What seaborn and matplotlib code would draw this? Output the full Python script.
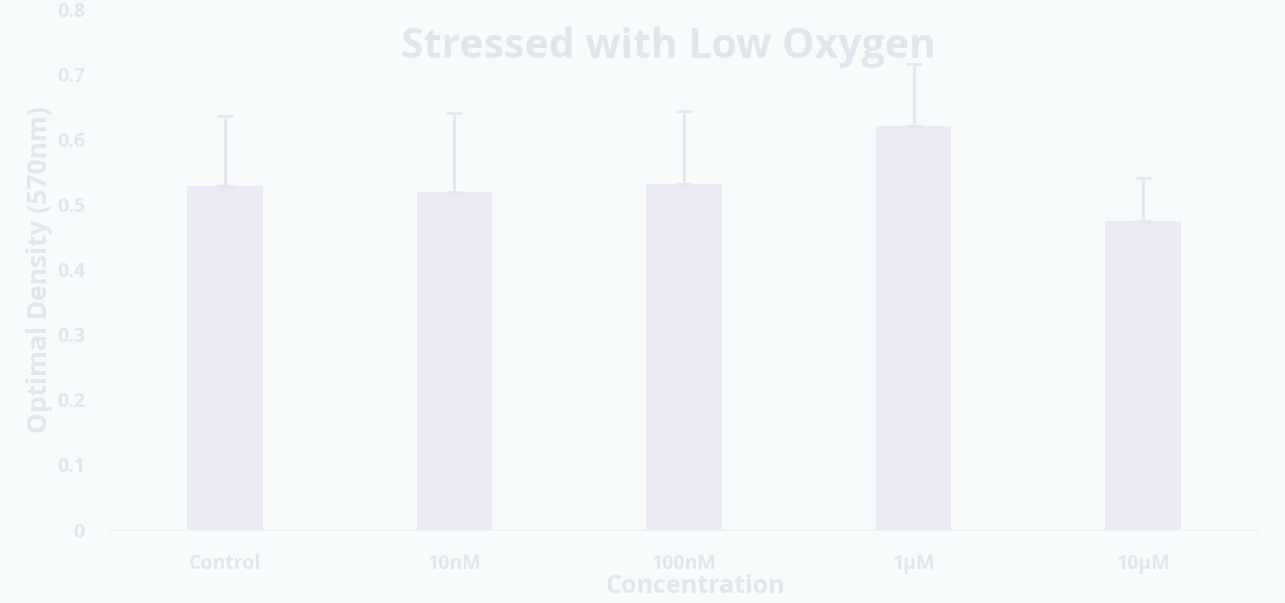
import matplotlib
matplotlib.use("Agg")
import matplotlib.pyplot as plt
import seaborn as sns
import numpy as np
import pandas as pd

# Optical density readings per treatment concentration
concentrations = ["Control", "10nM", "100nM", "1µM", "10µM"]
mean_od = [0.528, 0.519, 0.531, 0.621, 0.475]
upper_err = [0.108, 0.122, 0.113, 0.094, 0.065]
y_ticks = [0, 0.1, 0.2, 0.3, 0.4, 0.5, 0.6, 0.7, 0.8]
y_tick_labels = ["0", "0.1", "0.2", "0.3", "0.4", "0.5", "0.6", "0.7", "0.8"]

bg = "#F7FBFB"
bar_color = "#EBEAF4"
text_color = "#E3E5EE"
err_color = "#E6E6F0"

sns.set_theme(style="white")
plt.rcParams["font.family"] = ["Open Sans", "DejaVu Sans"]

fig = plt.figure(figsize=(12.85, 6.03), dpi=100, facecolor=bg)
ax = fig.add_axes([0.0856, 0.121, 0.8934, 0.864])
ax.set_facecolor(bg)

df = pd.DataFrame({"Concentration": concentrations, "OD": mean_od})
sns.barplot(data=df, x="Concentration", y="OD", color=bar_color,
            width=0.33, saturation=1, errorbar=None, ax=ax,
            edgecolor="none")

# Upper-only error bars
ax.errorbar(np.arange(len(concentrations)), mean_od,
            yerr=[np.zeros(len(upper_err)), upper_err],
            fmt="none", ecolor=err_color, elinewidth=2.2,
            capsize=6, capthick=2.2, zorder=3)

ax.set_ylim(0, 0.8)
ax.set_xlim(-0.5, len(concentrations) - 0.5)
ax.set_yticks(y_ticks)
ax.set_yticklabels(y_tick_labels)
ax.tick_params(axis="both", length=0, colors=text_color, labelsize=14)
ax.tick_params(axis="y", pad=18)
ax.tick_params(axis="x", pad=17)
for lbl in ax.get_xticklabels() + ax.get_yticklabels():
    lbl.set_fontweight("bold")

for side in ["top", "right", "left"]:
    ax.spines[side].set_visible(False)
ax.spines["bottom"].set_color("#EEEFF3")
ax.spines["bottom"].set_linewidth(1.2)

ax.set_xlabel("Concentration", fontsize=18, fontweight="bold",
              color=text_color)
ax.xaxis.set_label_coords(0.51, -0.108, transform=ax.transAxes)
ax.xaxis.label.set_va("center")
ax.set_ylabel("Optimal Density (570nm)", fontsize=19, fontweight="bold",
              color=text_color)
ax.yaxis.set_label_coords(-0.05, 0.5, transform=ax.transAxes)

fig.text(0.52, 0.922, "Stressed with Low Oxygen", ha="center", va="center",
         fontsize=29.5, fontweight="bold", color=text_color)

fig.savefig("out.png", dpi=100, facecolor=bg)
